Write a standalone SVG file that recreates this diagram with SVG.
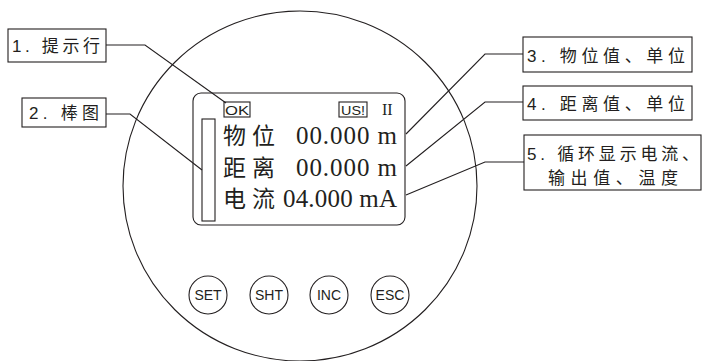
<svg xmlns="http://www.w3.org/2000/svg" width="702" height="361" viewBox="0 0 702 361">
<style>
.ln{fill:none;stroke:#231f20;stroke-width:1.1}
.bx{fill:#fff;stroke:#231f20;stroke-width:1.1}
.lbl{font-family:"Liberation Sans","Noto Sans CJK SC",sans-serif;font-size:17px;fill:#231f20}
.cjk{font-family:"Noto Sans CJK SC","Liberation Serif",serif;font-size:23px;fill:#231f20}
.num{font-family:"Liberation Serif",serif;font-size:25px;fill:#231f20}
.ii{font-family:"Liberation Serif",serif;font-size:16px;fill:#231f20}
.sm{font-family:"Liberation Sans",sans-serif;font-size:12px;fill:#231f20}
.btn{font-family:"Liberation Sans",sans-serif;font-size:14px;fill:#231f20;text-anchor:middle}
</style>
<rect width="702" height="361" fill="#fff"/>
<g id="body"><ellipse class="ln" cx="300" cy="186" rx="177" ry="175"/></g>
<g id="display">
<rect class="ln" x="193" y="93" width="212" height="132" rx="8"/>
<rect class="ln" x="202" y="119" width="13" height="102"/>
<rect class="ln" x="224" y="102" width="26" height="15"/>
<text class="sm" x="225" y="114.5" textLength="24" lengthAdjust="spacingAndGlyphs">OK</text>
<rect class="ln" x="339" y="102" width="28" height="15"/>
<text class="sm" x="341" y="114.5" textLength="24" lengthAdjust="spacingAndGlyphs">US!</text>
<text class="ii" x="382" y="115">II</text>
<text class="cjk" x="223" y="144" textLength="52">物位</text>
<text class="num" x="296" y="144" textLength="101" lengthAdjust="spacing">00.000 m</text>
<text class="cjk" x="223" y="176" textLength="52">距离</text>
<text class="num" x="296" y="176" textLength="101" lengthAdjust="spacing">00.000 m</text>
<text class="cjk" x="223" y="207" textLength="52">电流</text>
<text class="num" x="283" y="207" textLength="114" lengthAdjust="spacing">04.000 mA</text>
</g>
<g id="buttons">
<g id="btn-set"><circle class="ln" cx="208" cy="295" r="19"/><text class="btn" x="208" y="300">SET</text></g>
<g id="btn-sht"><circle class="ln" cx="269" cy="295" r="19"/><text class="btn" x="269" y="300">SHT</text></g>
<g id="btn-inc"><circle class="ln" cx="329" cy="295" r="19"/><text class="btn" x="329" y="300">INC</text></g>
<g id="btn-esc"><circle class="ln" cx="390" cy="295" r="19"/><text class="btn" x="390" y="300">ESC</text></g>
</g>
<g id="connectors">
<polyline class="ln" points="106,45 145,45 226,103"/>
<polyline class="ln" points="106,114 130,114 202,170"/>
<polyline class="ln" points="523,54 485,54 406,134"/>
<polyline class="ln" points="523,102 485,102 406,166"/>
<polyline class="ln" points="524,162 485,162 406,195"/>
</g>
<g id="label1"><rect class="bx" x="8" y="29" width="98" height="33"/><text class="lbl" x="12" y="52" textLength="88">1. 提示行</text></g>
<g id="label2"><rect class="bx" x="22" y="98" width="84" height="29"/><text class="lbl" x="29" y="119" textLength="70">2. 棒图</text></g>
<g id="label3"><rect class="bx" x="523" y="37" width="169" height="35"/><text class="lbl" x="527" y="62" textLength="158">3. 物位值、单位</text></g>
<g id="label4"><rect class="bx" x="523" y="86" width="169" height="34"/><text class="lbl" x="527" y="110" textLength="158">4. 距离值、单位</text></g>
<g id="label5"><rect class="bx" x="524" y="135" width="177" height="55"/><text class="lbl" x="527" y="160" textLength="172">5. 循环显示电流、</text><text class="lbl" x="548" y="184" textLength="130">输出值、温度</text></g>
</svg>
